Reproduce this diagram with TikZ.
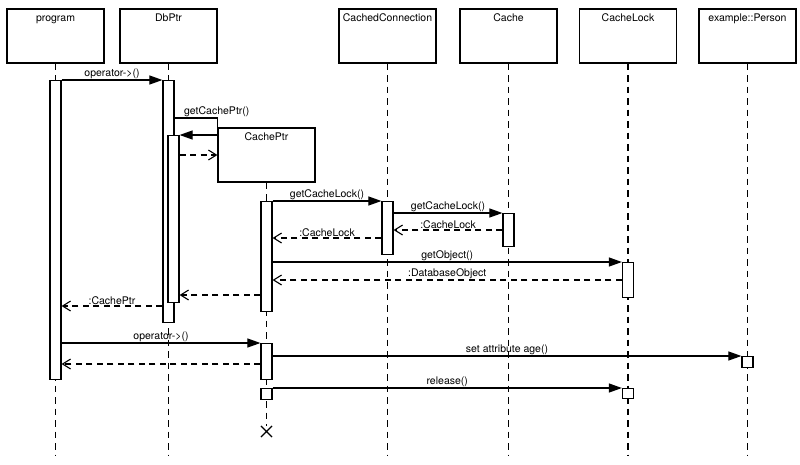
\documentclass[tikz,border=0pt]{standalone}
\usepackage{fontspec}
\setmainfont{TeX Gyre Heros}
\usetikzlibrary{arrows.meta,shapes.misc}

\tikzset{
  head/.style={draw, line width=1.2pt, minimum width=97pt, minimum height=54pt, inner sep=0},
  htxt/.style={anchor=base, inner sep=0},
  act/.style={draw, line width=1.2pt, fill=white, minimum width=11pt, inner sep=0, anchor=north},
  life/.style={line width=1.4pt, dash pattern=on 6.5pt off 5pt},
  call/.style={line width=1.1pt, -{Triangle[length=13pt,width=9pt]}},
  ret/.style={line width=1.1pt, dash pattern=on 6pt off 4.5pt, -{Straight Barb[length=8pt,width=10pt]}},
  lbl/.style={midway, above, inner sep=1pt}
}

\begin{document}
\begin{tikzpicture}[x=1pt, y=-1pt, font=\fontsize{10.5}{12}\selectfont]
    \useasboundingbox (0,0) rectangle (800,464);
    % objects
    \node[head] (prog) at (55.5,36) {};
    \node[head] (dbp) at (168.5,36) {};
    \node[head] (conn) at (387.5,36) {};
    \node[head] (cache) at (508.5,36) {};
    \node[head] (lock) at (628,36) {};
    \node[head] (pers) at (747.5,36) {};
    \node[head] (cptr) at (266.5,155) {};
    \node[htxt] at ([yshift=-13pt]prog.north) {program};
    \node[htxt] at ([yshift=-13pt]dbp.north) {DbPtr};
    \node[htxt] at ([yshift=-13pt]conn.north) {CachedConnection};
    \node[htxt] at ([yshift=-13pt]cache.north) {Cache};
    \node[htxt] at ([yshift=-13pt]lock.north) {CacheLock};
    \node[htxt] at ([yshift=-13pt]pers.north) {example::Person};
    \node[htxt] at ([yshift=-13pt]cptr.north) {CachePtr};
    \node[draw, cross out, minimum size=10pt, inner sep=0, line width=1.1pt] (kill) at (266.5,431.5) {};

    % lifelines
    \draw[life] (prog.south) -- (prog.south |- 0,456);
    \draw[life] (dbp.south) -- (dbp.south |- 0,456);
    \draw[life] (conn.south) -- (conn.south |- 0,456);
    \draw[life] (cache.south) -- (cache.south |- 0,456);
    \draw[life] (lock.south) -- (lock.south |- 0,456);
    \draw[life] (pers.south) -- (pers.south |- 0,456);
    \draw[life] (cptr.south) -- (kill.north);

    % activations
    \node[act, minimum height=299pt] (pa) at (55.5,80) {};
    \node[act, minimum height=242pt] (da) at (168.5,80) {};
    \node[act, minimum height=167pt] (db) at (173.5,135) {};
    \node[act, minimum height=110pt] (ca) at (266.5,201) {};
    \node[act, minimum height=36pt] (cb) at (266.5,343) {};
    \node[act, minimum height=11pt] (cc) at (266.5,388) {};
    \node[act, minimum height=53pt] (na) at (387.5,201) {};
    \node[act, minimum height=33pt] (ka) at (508.5,213) {};
    \node[act, minimum height=35pt] (la) at (628,262) {};
    \node[act, minimum height=10pt] (lb) at (628,388) {};
    \node[act, minimum height=11pt] (pe) at (747.5,356) {};

    % messages
    \draw[call] (pa.north east) -- node[lbl]{operator->()} (da.north west);
    \draw[call] (da.east |- 0,118) node[anchor=south west, xshift=8pt, inner sep=1pt]{getCachePtr()}
        -- (dbp.east |- 0,118) |- (db.north east);
    \draw[ret] (db.east |- cptr.west) -- (cptr.west);
    \draw[call] (ca.north east) -- node[lbl]{getCacheLock()} (na.north west);
    \draw[call] (na.east |- ka.north) -- node[lbl]{getCacheLock()} (ka.north west);
    \draw[ret] (ka.west |- 0,230) -- node[lbl]{:CacheLock} (na.east |- 0,230);
    \draw[ret] (na.west |- 0,238) -- node[lbl]{:CacheLock} (ca.east |- 0,238);
    \draw[call] (ca.east |- la.north) -- node[lbl]{getObject()} (la.north west);
    \draw[ret] (la.west |- 0,280) -- node[lbl]{:DatabaseObject} (ca.east |- 0,280);
    \draw[ret] (ca.west |- 0,295) -- (db.east |- 0,295);
    \draw[ret] (da.west |- 0,306) -- node[lbl]{:CachePtr} (pa.east |- 0,306);
    \draw[call] (pa.east |- cb.north) -- node[lbl]{operator->()} (cb.north west);
    \draw[ret] (cb.west |- 0,364) -- (pa.east |- 0,364);
    \draw[call] (cb.east |- pe.north) -- node[lbl]{set attribute age()} (pe.north west);
    \draw[call] (cc.north east) -- node[lbl]{release()} (lb.north west);
\end{tikzpicture}
\end{document}
